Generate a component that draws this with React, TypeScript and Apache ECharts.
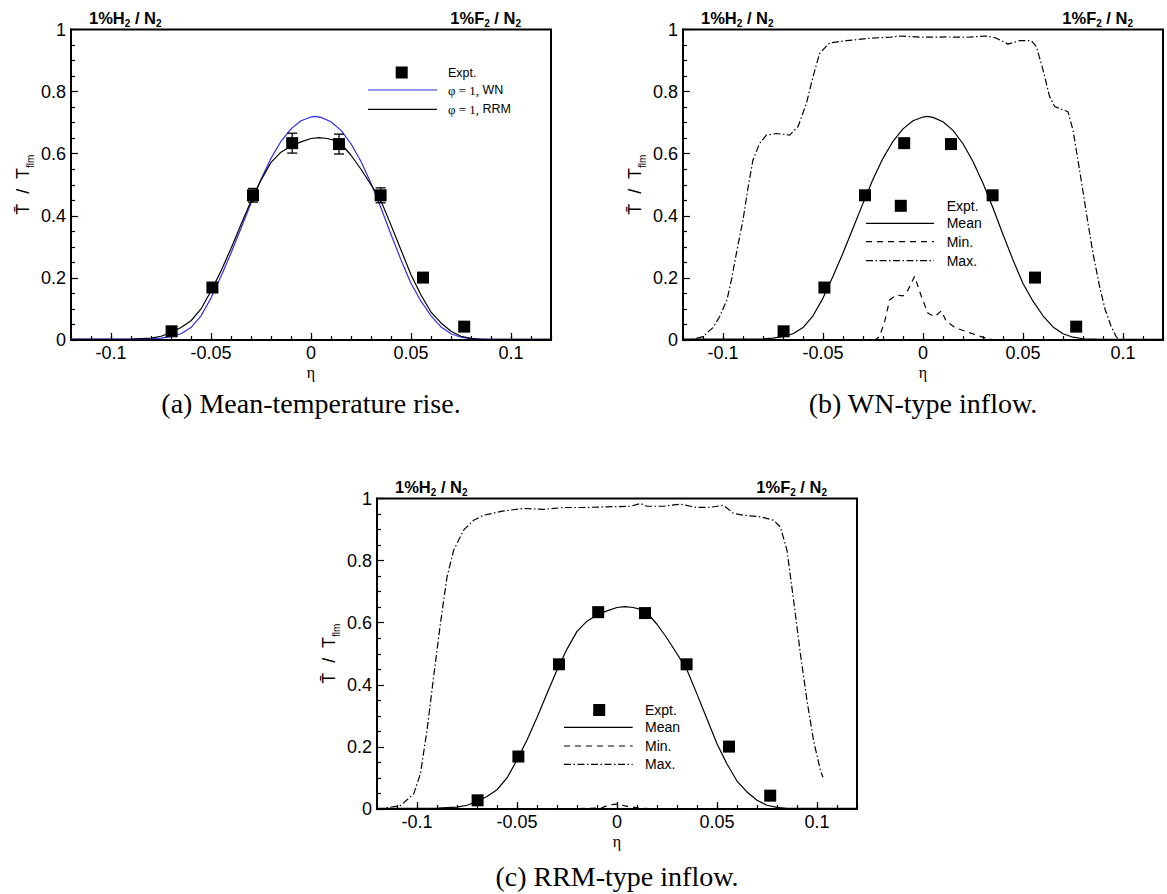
import React, { useEffect, useRef } from 'react';
import * as echarts from 'echarts';

// ---------------- data ----------------
const exptEta = [-0.0697, -0.0493, -0.029, -0.0094, 0.014, 0.0348, 0.056, 0.0766];
const exptT = [0.028, 0.169, 0.466, 0.634, 0.631, 0.466, 0.201, 0.043];
const exptErr = [0.012, 0.012, 0.022, 0.032, 0.032, 0.024, 0.012, 0.012];

// WN-type inflow mean (phi = 1, WN)
const wnEta = [-0.12, -0.09, -0.08, -0.075, -0.07, -0.065, -0.06, -0.055, -0.05, -0.045, -0.04, -0.035, -0.03, -0.025, -0.02, -0.015, -0.01, -0.005, 0, 0.002, 0.005, 0.01, 0.015, 0.02, 0.025, 0.03, 0.035, 0.04, 0.045, 0.05, 0.055, 0.06, 0.065, 0.07, 0.075, 0.08, 0.09, 0.12];
const wnT = [0.003, 0.003, 0.004, 0.006, 0.011, 0.02, 0.04, 0.078, 0.135, 0.205, 0.28, 0.36, 0.44, 0.518, 0.585, 0.64, 0.68, 0.706, 0.718, 0.72, 0.717, 0.703, 0.675, 0.632, 0.575, 0.505, 0.425, 0.34, 0.258, 0.182, 0.125, 0.078, 0.042, 0.02, 0.009, 0.004, 0.002, 0.002];

// RRM-type inflow mean (phi = 1, RRM)
const rrmEta = [-0.12, -0.09, -0.08, -0.075, -0.07, -0.065, -0.06, -0.055, -0.05, -0.045, -0.04, -0.035, -0.03, -0.025, -0.02, -0.015, -0.01, -0.005, 0, 0.004, 0.008, 0.012, 0.015, 0.02, 0.025, 0.03, 0.035, 0.04, 0.045, 0.05, 0.055, 0.06, 0.065, 0.07, 0.075, 0.08, 0.085, 0.12];
const rrmT = [0.002, 0.003, 0.006, 0.012, 0.024, 0.04, 0.062, 0.1, 0.158, 0.222, 0.295, 0.372, 0.448, 0.515, 0.572, 0.605, 0.625, 0.638, 0.649, 0.652, 0.649, 0.643, 0.632, 0.595, 0.55, 0.5, 0.448, 0.37, 0.29, 0.21, 0.145, 0.09, 0.055, 0.028, 0.012, 0.005, 0.002, 0.002];

// WN-type inflow: min and max
const minBEta = [-0.03, -0.024, -0.0217, -0.019, -0.0167, -0.0133, -0.01, -0.0075, -0.0042, -0.0008, 0.0025, 0.0058, 0.0092, 0.0117, 0.0167, 0.0217, 0.0267, 0.0317, 0.036];
const minBT = [0, 0, 0.011, 0.064, 0.129, 0.145, 0.142, 0.161, 0.205, 0.14, 0.086, 0.075, 0.094, 0.059, 0.038, 0.027, 0.016, 0.005, 0];
const maxBEta = [-0.12, -0.115, -0.11, -0.105, -0.1017, -0.098, -0.0958, -0.093, -0.09, -0.0875, -0.085, -0.0817, -0.0783, -0.0733, -0.0667, -0.0625, -0.0583, -0.055, -0.0517, -0.0467, -0.0383, -0.0267, -0.0167, -0.0117, 0, 0.0117, 0.0217, 0.0317, 0.0367, 0.0425, 0.0483, 0.0542, 0.0567, 0.06, 0.0633, 0.0658, 0.0692, 0.0725, 0.075, 0.0783, 0.0817, 0.085, 0.0883, 0.091, 0.094, 0.0965, 0.098];
const maxBT = [0, 0.002, 0.011, 0.04, 0.075, 0.13, 0.193, 0.29, 0.386, 0.49, 0.58, 0.633, 0.66, 0.665, 0.66, 0.687, 0.762, 0.848, 0.923, 0.957, 0.964, 0.972, 0.975, 0.979, 0.975, 0.976, 0.975, 0.979, 0.972, 0.953, 0.964, 0.964, 0.945, 0.87, 0.784, 0.752, 0.743, 0.735, 0.676, 0.547, 0.408, 0.279, 0.172, 0.1, 0.045, 0.012, 0];

// RRM-type inflow: min and max
const minCEta = [-0.03, -0.008, -0.004, 0, 0.004, 0.008, 0.012, 0.03];
const minCT = [0, 0.003, 0.013, 0.016, 0.01, 0.006, 0.002, 0];
const maxCEta = [-0.12, -0.1167, -0.1083, -0.1017, -0.0983, -0.095, -0.0917, -0.0883, -0.085, -0.0817, -0.0767, -0.0717, -0.0667, -0.0567, -0.0467, -0.0367, -0.0267, -0.0167, -0.0067, 0, 0.0067, 0.0117, 0.015, 0.0233, 0.0317, 0.04, 0.0467, 0.0533, 0.0583, 0.0633, 0.0717, 0.0783, 0.0817, 0.085, 0.0883, 0.0917, 0.095, 0.0983, 0.1017, 0.103];
const maxCT = [0, 0.002, 0.011, 0.048, 0.113, 0.253, 0.425, 0.597, 0.747, 0.833, 0.898, 0.93, 0.946, 0.96, 0.968, 0.965, 0.971, 0.971, 0.973, 0.974, 0.975, 0.984, 0.975, 0.975, 0.982, 0.971, 0.972, 0.978, 0.952, 0.946, 0.941, 0.93, 0.908, 0.833, 0.672, 0.5, 0.349, 0.22, 0.124, 0.102];

const xMajorTicks = [-0.1, 0.1, 0.05];
const yTicks = [0, 1, 0.2];
const captions = ['(a) Mean-temperature rise.', '(b) WN-type inflow.', '(c) RRM-type inflow.'];
const legendA = ['Expt.', 'φ = 1,', 'WN', 'RRM'];
const legendBC = ['Expt.', 'Mean', 'Min.', 'Max.'];

// ---------------- layout ----------------
const PW = 480;
const PH = 310.5;
const panels = [
  { left: 71, top: 29.5 },
  { left: 683, top: 29.5 },
  { left: 377, top: 498.5 },
];
const SANS = 'Liberation Sans';
const SERIF = 'Liberation Serif';
const DASHED = [6, 5];
const DASHDOT = [7, 2.5, 1.5, 2.5];

const pairs = (xs: number[], ys: number[]) => xs.map((x, i) => [x, ys[i]]);

function lineSeries(i: number, xs: number[], ys: number[], color: string, type: any) {
  return {
    type: 'line',
    xAxisIndex: i,
    yAxisIndex: i,
    data: pairs(xs, ys),
    showSymbol: false,
    symbol: 'none',
    silent: true,
    lineStyle: { color, width: 1.2, type, opacity: 1 },
    z: 3,
  };
}

function scatterSeries(i: number) {
  return {
    type: 'scatter',
    xAxisIndex: i,
    yAxisIndex: i,
    data: pairs(exptEta, exptT),
    symbol: 'rect',
    symbolSize: 12,
    itemStyle: { color: '#000', opacity: 1 },
    silent: true,
    z: 5,
  };
}

function topLabel(x: number, y: number, species: string, align: string) {
  return {
    type: 'text',
    x,
    y,
    style: {
      text: `{b|1%${species}}{s|2}{b| / N}{s|2}`,
      align,
      verticalAlign: 'middle',
      fill: '#000',
      rich: {
        b: { fontSize: 16.5, fontWeight: 'bold', fontFamily: SANS, fill: '#000', lineHeight: 19 },
        s: { fontSize: 10, fontWeight: 'bold', fontFamily: SANS, fill: '#000', lineHeight: 10, padding: [11, 0, 0, 0] },
      },
    },
  };
}

function plainText(x: number, y: number, text: string, fontSize: number, family: string, align = 'left') {
  return {
    type: 'text',
    x,
    y,
    style: { text, fontSize, fontFamily: family, fill: '#000', align, verticalAlign: 'middle' },
  };
}

function legendLine(x1: number, x2: number, y: number, color: string, dash: any) {
  return {
    type: 'line',
    shape: { x1, y1: y, x2, y2: y },
    style: { stroke: color, lineWidth: 1.2, lineDash: dash },
  };
}

function legendSquare(cx: number, cy: number) {
  return { type: 'rect', shape: { x: cx - 6, y: cy - 6, width: 12, height: 12 }, style: { fill: '#000' } };
}

export default function App() {
  const ref = useRef<HTMLDivElement>(null);

  useEffect(() => {
    if (!ref.current) return;
    const chart = echarts.init(ref.current, null, { renderer: 'svg', width: 1167, height: 894 });

    const grids: any[] = [];
    const xAxes: any[] = [];
    const yAxes: any[] = [];

    panels.forEach((p) => {
      grids.push({
        left: p.left, top: p.top, width: PW, height: PH,
        show: true, borderColor: '#000', borderWidth: 2, backgroundColor: 'transparent',
        containLabel: false, outerBoundsMode: 'none',
      });
    });
    panels.forEach((p) => {
      grids.push({
        left: p.left + 40, top: p.top, width: PW - 80, height: PH,
        show: false, containLabel: false, outerBoundsMode: 'none',
      });
    });

    panels.forEach((p, i) => {
      xAxes.push({
        gridIndex: i, type: 'value', min: -0.12, max: 0.12, interval: 0.01,
        axisLine: { show: true, onZero: false, lineStyle: { color: '#000', width: 2 } },
        axisTick: { show: true, inside: true, length: 4, lineStyle: { color: '#000', width: 1.2 } },
        axisLabel: { show: false },
        splitLine: { show: false },
        name: 'η', nameLocation: 'middle', nameGap: 24, nameMoveOverlap: false,
        nameTextStyle: { fontFamily: SERIF, fontSize: 16, color: '#000' },
      });
      yAxes.push({
        gridIndex: i, type: 'value', min: yTicks[0], max: yTicks[1], interval: yTicks[2],
        axisLine: { show: true, onZero: false, lineStyle: { color: '#000', width: 2 } },
        axisTick: { show: true, inside: true, length: 7, lineStyle: { color: '#000', width: 1.2 } },
        minorTick: { show: true, splitNumber: 4, length: 4, lineStyle: { color: '#000', width: 1.2 } },
        axisLabel: { show: true, margin: 5, fontSize: 18, fontFamily: SANS, color: '#000',
          formatter: (v: number) => String(Math.round(v * 10) / 10) },
        splitLine: { show: false },
        minorSplitLine: { show: false },
        name: '{t|T\u0304  /  T}{s|flm}', nameLocation: 'middle', nameRotate: 90, nameGap: 36,
        nameMoveOverlap: false,
        nameTextStyle: {
          color: '#000',
          rich: {
            t: { fontSize: 18, fontFamily: SANS, color: '#000', lineHeight: 24 },
            s: { fontSize: 10, fontFamily: SANS, color: '#000', lineHeight: 10, padding: [14, 0, 0, 0] },
          },
        },
      });
    });
    panels.forEach((p, i) => {
      xAxes.push({
        gridIndex: 3 + i, type: 'value', min: xMajorTicks[0], max: xMajorTicks[1], interval: xMajorTicks[2],
        axisLine: { show: false, onZero: false },
        axisTick: { show: true, inside: true, length: 7, lineStyle: { color: '#000', width: 1.2 } },
        axisLabel: { show: true, margin: 4, fontSize: 18, fontFamily: SANS, color: '#000',
          formatter: (v: number) => String(Math.round(v * 100) / 100) },
        splitLine: { show: false },
      });
      yAxes.push({ gridIndex: 3 + i, type: 'value', min: 0, max: 1, show: false });
    });

    const series: any[] = [
      // (a)
      lineSeries(0, wnEta, wnT, '#2d2de8', 'solid'),
      lineSeries(0, rrmEta, rrmT, '#000', 'solid'),
      {
        type: 'custom',
        xAxisIndex: 0,
        yAxisIndex: 0,
        silent: true,
        data: exptEta.map((x, i) => [x, exptT[i], exptErr[i]]),
        encode: { x: 0, y: 1 },
        z: 4,
        renderItem: (params: any, api: any) => {
          const x = api.value(0);
          const y = api.value(1);
          const e = api.value(2);
          const top = api.coord([x, y + e]);
          const bot = api.coord([x, y - e]);
          const st = { stroke: '#000', lineWidth: 1.3 };
          return {
            type: 'group',
            children: [
              { type: 'line', shape: { x1: top[0], y1: top[1], x2: bot[0], y2: bot[1] }, style: st },
              { type: 'line', shape: { x1: top[0] - 5, y1: top[1], x2: top[0] + 5, y2: top[1] }, style: st },
              { type: 'line', shape: { x1: bot[0] - 5, y1: bot[1], x2: bot[0] + 5, y2: bot[1] }, style: st },
            ],
          };
        },
      },
      scatterSeries(0),
      // (b)
      lineSeries(1, wnEta, wnT, '#000', 'solid'),
      lineSeries(1, minBEta, minBT, '#000', DASHED),
      lineSeries(1, maxBEta, maxBT, '#000', DASHDOT),
      scatterSeries(1),
      // (c)
      lineSeries(2, rrmEta, rrmT, '#000', 'solid'),
      lineSeries(2, minCEta, minCT, '#000', DASHED),
      lineSeries(2, maxCEta, maxCT, '#000', DASHDOT),
      scatterSeries(2),
    ];

    const graphic: any[] = [];
    // top labels
    panels.forEach((p) => {
      graphic.push(topLabel(p.left + 18, p.top - 12, 'H', 'left'));
      graphic.push(topLabel(p.left + PW - 30, p.top - 12, 'F', 'right'));
    });
    // captions
    graphic.push(plainText(panels[0].left + PW / 2, 403, captions[0], 28, SERIF, 'center'));
    graphic.push(plainText(panels[1].left + PW / 2, 403, captions[1], 28, SERIF, 'center'));
    graphic.push(plainText(panels[2].left + PW / 2, 876, captions[2], 28, SERIF, 'center'));

    // legend (a)
    graphic.push(legendSquare(401.7, 72.5));
    graphic.push(plainText(448, 72.5, legendA[0], 12.5, SANS));
    graphic.push(legendLine(368, 437, 90, '#2d2de8', null));
    graphic.push(legendLine(368, 437, 109.3, '#000', null));
    [[90, legendA[2]], [109.3, legendA[3]]].forEach(([y, lab]) => {
      graphic.push({
        type: 'text', x: 448, y,
        style: {
          text: `{g|${legendA[1]}} {t|${lab}}`, align: 'left', verticalAlign: 'middle', fill: '#000',
          rich: {
            g: { fontSize: 13, fontFamily: SERIF, fill: '#000' },
            t: { fontSize: 12.5, fontFamily: SANS, fill: '#000' },
          },
        },
      });
    });

    // legend (b) and (c)
    const legendPos = [
      { sq: [900.8, 205.8], x1: 866, x2: 934, tx: 946.7, ys: [223.3, 241.7, 260.7] },
      { sq: [599.2, 710], x1: 564, x2: 632.7, tx: 645, ys: [727.3, 746, 764.3] },
    ];
    legendPos.forEach((L) => {
      graphic.push(legendSquare(L.sq[0], L.sq[1]));
      graphic.push(plainText(L.tx, L.sq[1], legendBC[0], 14, SANS));
      graphic.push(legendLine(L.x1, L.x2, L.ys[0], '#000', null));
      graphic.push(legendLine(L.x1, L.x2, L.ys[1], '#000', DASHED));
      graphic.push(legendLine(L.x1, L.x2, L.ys[2], '#000', DASHDOT));
      graphic.push(plainText(L.tx, L.ys[0], legendBC[1], 14, SANS));
      graphic.push(plainText(L.tx, L.ys[1], legendBC[2], 14, SANS));
      graphic.push(plainText(L.tx, L.ys[2], legendBC[3], 14, SANS));
    });

    chart.setOption({
      animation: false,
      backgroundColor: '#fff',
      grid: grids,
      xAxis: xAxes,
      yAxis: yAxes,
      series,
      graphic,
    });

    return () => chart.dispose();
  }, []);

  return (
    <div
      ref={ref}
      style={{ position: 'absolute', left: 0, top: 0, width: 1167, height: 894, background: '#fff' }}
    />
  );
}
